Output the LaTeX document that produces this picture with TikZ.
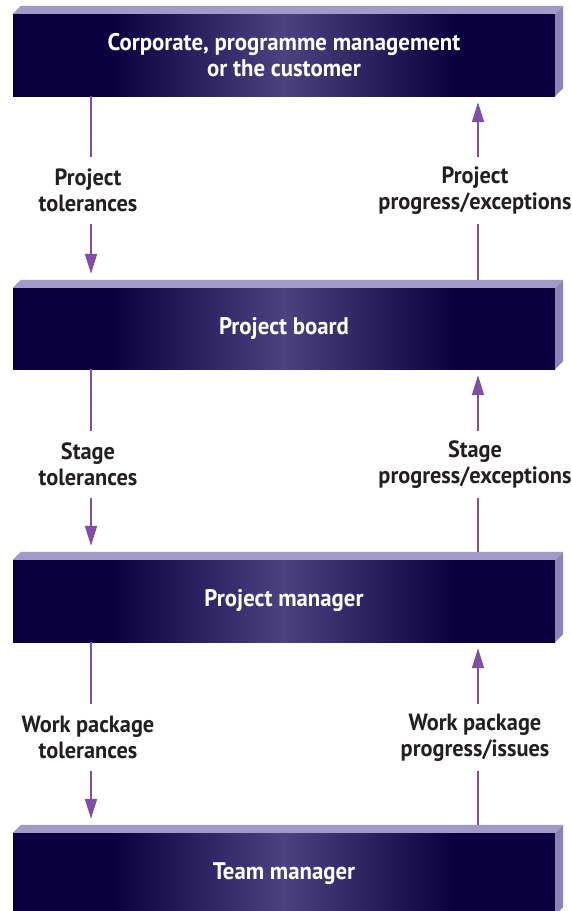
\documentclass[tikz,border=0pt]{standalone}
\usepackage{fontspec}
\setmainfont{PT Sans}[BoldFeatures={FakeStretch=0.95}]
\usetikzlibrary{arrows.meta}
\definecolor{navy}{HTML}{0A003F}
\definecolor{midp}{HTML}{4C4282}
\definecolor{topc}{HTML}{A39BC7}
\definecolor{sidec}{HTML}{8C83B9}
\definecolor{arr}{HTML}{7E4FA5}
\definecolor{lbl}{HTML}{231F20}
\pgfdeclarehorizontalshading{boxshade}{100bp}{color(0bp)=(navy); color(34bp)=(navy); color(50bp)=(midp); color(66bp)=(navy); color(100bp)=(navy)}
\begin{document}
\begin{tikzpicture}[x=1pt,y=-1pt,
  box/.style={shade, shading=boxshade, minimum width=542pt, inner sep=0pt, text=white,
    font=\bfseries\fontsize{24}{26}\selectfont, align=center},
  lab/.style={text=lbl, font=\bfseries\fontsize{23.5}{26}\selectfont, align=center, inner sep=0pt, minimum height=66pt},
  flow/.style={draw=arr, line width=1.8pt},
  tip/.style={-{Triangle[width=12pt,length=20pt]}}
]
\useasboundingbox (0,0) rectangle (572,911);
% boxes
\node[box, minimum height=82pt] (b1) at (284,55) {Corporate, programme management\\or the customer};
\node[box, minimum height=81pt] (b2) at (284,328.5) {Project board};
\node[box, minimum height=82pt] (b3) at (284,601) {Project manager};
\node[box, minimum height=82pt] (b4) at (284,874) {Team manager};
\foreach \b in {b1,b2,b3,b4}{
  \fill[topc] (\b.north west) -- ++(8,-8) -- ([shift={(8,-8)}]\b.north east) -- (\b.north east) -- cycle;
  \fill[sidec] (\b.north east) -- ++(8,-8) -- ([shift={(8,-8)}]\b.south east) -- (\b.south east) -- cycle;
}
% labels
\node[lab] (l1) at (88,190.5) {Project\\tolerances};
\node[lab] (r1) at (475,190.5) {Project\\progress/exceptions};
\node[lab] (l2) at (88,464.5) {Stage\\tolerances};
\node[lab] (r2) at (475,464.5) {Stage\\progress/exceptions};
\node[lab] (l3) at (88,737.5) {Work package\\tolerances};
\node[lab] (r3) at (475,737.5) {Work package\\progress/issues};
% connectors
\foreach \u/\d/\l/\r in {b1/b2/l1/r1, b2/b3/l2/r2, b3/b4/l3/r3}{
  \coordinate (\l a) at (91,0 |- \u.south);
  \coordinate (\l b) at ([yshift=8pt]91,0 |- \d.north);
  \coordinate (\r a) at ([yshift=8pt]478,0 |- \d.north);
  \coordinate (\r b) at (478,0 |- \u.south);
  \draw[flow] (\l a) -- (\l a |- \l.north);
  \draw[flow, tip, shorten >=6pt] (\l a |- \l.south) -- (\l b);
  \draw[flow] (\r a) -- (\r a |- \r.south);
  \draw[flow, tip, shorten >=6pt] (\r b |- \r.north) -- (\r b);
}
\end{tikzpicture}
\end{document}
